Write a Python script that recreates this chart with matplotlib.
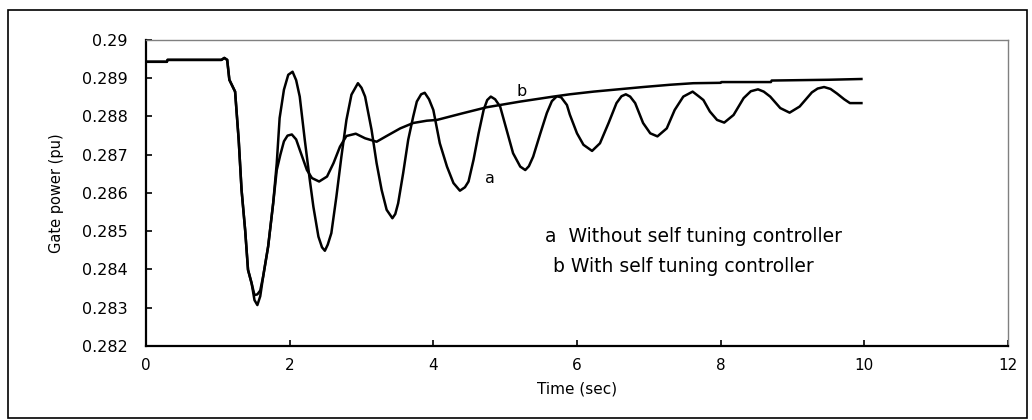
import numpy as np
import matplotlib.pyplot as plt
from matplotlib.patches import Rectangle

# curve a: without self tuning controller
t_a = [0.0, 0.29, 0.30, 1.05, 1.09, 1.13, 1.16, 1.24, 1.29, 1.33, 1.38, 1.42,
       1.47, 1.51, 1.55, 1.59, 1.63, 1.70, 1.77, 1.82, 1.86, 1.92, 1.98, 2.04,
       2.09, 2.14, 2.21, 2.28, 2.33, 2.40, 2.45, 2.49, 2.53, 2.58, 2.65, 2.72,
       2.79, 2.86, 2.95, 3.00, 3.05, 3.14, 3.21, 3.28, 3.35, 3.43, 3.47, 3.51,
       3.58, 3.65, 3.72, 3.77, 3.83, 3.88, 3.94, 4.00, 4.09, 4.19, 4.28, 4.37,
       4.44, 4.49, 4.56, 4.63, 4.70, 4.75, 4.80, 4.86, 4.93, 5.02, 5.11, 5.21,
       5.28, 5.33, 5.39, 5.49, 5.58, 5.65, 5.72, 5.78, 5.86, 5.90, 6.00, 6.09,
       6.21, 6.32, 6.44, 6.55, 6.62, 6.68, 6.74, 6.81, 6.92, 7.02, 7.12, 7.25,
       7.36, 7.48, 7.61, 7.70, 7.76, 7.85, 7.95, 8.05, 8.18, 8.32, 8.42, 8.52,
       8.60, 8.69, 8.83, 8.96, 9.10, 9.27, 9.35, 9.44, 9.53, 9.62, 9.72, 9.80,
       9.96]
p_a = [0.28943, 0.28943, 0.28948, 0.28948, 0.28953, 0.28948, 0.28896, 0.28865,
       0.28739, 0.28608, 0.28503, 0.28399, 0.28364, 0.28320, 0.28307, 0.28330,
       0.28381, 0.28460, 0.28573, 0.28678, 0.28796, 0.28870, 0.28909, 0.28917,
       0.28895, 0.28852, 0.28739, 0.28634, 0.28564, 0.28486, 0.28458, 0.28449,
       0.28465, 0.28495, 0.28590, 0.28695, 0.28791, 0.28857, 0.28887, 0.28875,
       0.28852, 0.28765, 0.28678, 0.28608, 0.28556, 0.28534, 0.28545, 0.28573,
       0.28652, 0.28739, 0.28800, 0.28839, 0.28858, 0.28862, 0.28845, 0.28817,
       0.28730, 0.28669, 0.28626, 0.28606, 0.28615, 0.28630, 0.28687, 0.28756,
       0.28817, 0.28843, 0.28852, 0.28845, 0.28826, 0.28765, 0.28704, 0.28669,
       0.28660, 0.28670, 0.28695, 0.28756, 0.28809, 0.28840, 0.28853, 0.28850,
       0.28830, 0.28805, 0.28756, 0.28726, 0.28710, 0.28730, 0.28783, 0.28835,
       0.28853, 0.28858, 0.28852, 0.28835, 0.28783, 0.28756, 0.28748, 0.28769,
       0.28817, 0.28852, 0.28865, 0.28852, 0.28843, 0.28813, 0.28791, 0.28784,
       0.28804, 0.28848, 0.28866, 0.28871, 0.28865, 0.28852, 0.28822, 0.28810,
       0.28826, 0.28863, 0.28873, 0.28877, 0.28872, 0.28860, 0.28845, 0.28835,
       0.28835]

# curve b: with self tuning controller
t_b = [0.0, 0.29, 0.30, 1.05, 1.09, 1.13, 1.16, 1.24, 1.29, 1.33, 1.38, 1.42,
       1.47, 1.51, 1.55, 1.59, 1.63, 1.70, 1.77, 1.82, 1.87, 1.92, 1.97, 2.03,
       2.09, 2.14, 2.24, 2.31, 2.41, 2.52, 2.61, 2.70, 2.79, 2.92, 3.05, 3.21,
       3.35, 3.54, 3.72, 3.91, 4.05, 4.40, 4.74, 5.21, 5.67, 5.90, 6.23, 6.92,
       7.30, 7.62, 8.00, 8.01, 8.70, 8.71, 9.50, 9.96]
p_b = [0.28943, 0.28943, 0.28948, 0.28948, 0.28953, 0.28948, 0.28896, 0.28865,
       0.28739, 0.28608, 0.28503, 0.28399, 0.28364, 0.28333, 0.28335, 0.28345,
       0.28381, 0.28460, 0.28573, 0.28660, 0.28700, 0.28735, 0.28750, 0.28753,
       0.28740, 0.28713, 0.28660, 0.28639, 0.28630, 0.28643, 0.28678, 0.28721,
       0.28749, 0.28755, 0.28743, 0.28734, 0.28749, 0.28769, 0.28783, 0.28789,
       0.28791, 0.28808, 0.28824, 0.28839, 0.28852, 0.28858, 0.28865, 0.28877,
       0.28883, 0.28887, 0.28888, 0.28890, 0.28890, 0.28894, 0.28896, 0.28898]

x_ticks = [0, 2, 4, 6, 8, 10, 12]
y_ticks = [0.282, 0.283, 0.284, 0.285, 0.286, 0.287, 0.288, 0.289, 0.29]
y_tick_labels = ['0.282', '0.283', '0.284', '0.285', '0.286', '0.287',
                 '0.288', '0.289', '0.29']

narrow = ['Liberation Sans Narrow', 'DejaVu Sans']

fig = plt.figure(figsize=(10.32, 4.2), dpi=100)
ax = fig.add_axes([0.1415, 0.1762, 0.8352, 0.7286])

ax.plot(t_a, p_a, color='black', lw=1.8)
ax.plot(t_b, p_b, color='black', lw=1.8)

ax.set_xlim(0, 12)
ax.set_ylim(0.282, 0.29)
ax.set_xticks(x_ticks)
ax.set_xticklabels([str(v) for v in x_ticks], fontsize=11, family=narrow)
ax.set_yticks(y_ticks)
ax.set_yticklabels(y_tick_labels, fontsize=11.5, family='DejaVu Sans')
ax.tick_params(axis='both', direction='in', length=4, width=1.2)
ax.tick_params(axis='y', pad=13)
ax.tick_params(axis='x', pad=9)

for side in ('left', 'bottom'):
    ax.spines[side].set_linewidth(1.6)
    ax.spines[side].set_color('black')
for side in ('top', 'right'):
    ax.spines[side].set_linewidth(1.0)
    ax.spines[side].set_color('#808080')

ax.set_xlabel('Time (sec)', fontsize=11, family=narrow, labelpad=6)
ax.set_ylabel('Gate power (pu)', fontsize=10.5, family=narrow, labelpad=13)

ax.text(5.16, 0.28865, 'b', fontsize=11.5, ha='left', va='center')
ax.text(4.72, 0.28639, 'a', fontsize=11.5, ha='left', va='center')
ax.text(5.55, 0.28485, 'a  Without self tuning controller', fontsize=13.5,
        ha='left', va='center')
ax.text(5.67, 0.28407, 'b With self tuning controller', fontsize=13.5,
        ha='left', va='center')

# outer frame around the whole chart
fig.patches.append(Rectangle((8 / 1032, 2 / 420), 1019 / 1032, 408 / 420,
                             transform=fig.transFigure, fill=False,
                             edgecolor='black', lw=1.2))

fig.savefig('out.png', dpi=100)
